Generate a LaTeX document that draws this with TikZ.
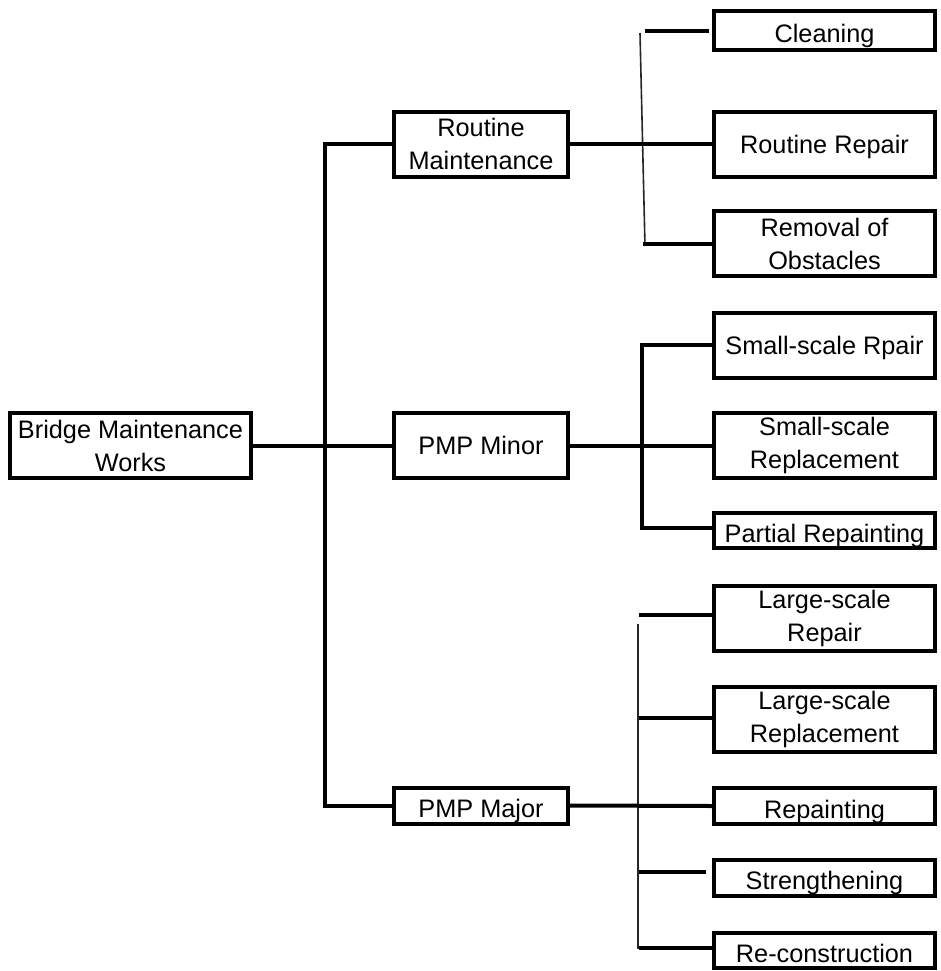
\documentclass[tikz,border=0pt]{standalone}
\usepackage{fontspec}
\setmainfont{Liberation Sans}
\begin{document}
\begin{tikzpicture}[x=0.5pt,y=-0.5pt,
  box/.style={draw, line width=2pt, inner sep=0pt, align=center,
    font=\fontsize{12.65pt}{16.5pt}\selectfont},
  leftbox/.style={box, minimum width=120.5pt},
  midbox/.style={box, minimum width=87pt},
  rightbox/.style={box, minimum width=110.5pt},
  tall/.style={minimum height=32.5pt},
  short/.style={minimum height=18pt},
  oneline/.style={text height=9pt, text depth=0pt},
  lowline/.style={text height=12pt, text depth=0pt},
  conn/.style={line width=2pt},
  thinconn/.style={line width=0.8pt, black!85}]
\useasboundingbox (0,0) rectangle (941,971);

% root and second level
\node[leftbox, tall] (bmw) at (130.5,445.5) {Bridge Maintenance\\Works};
\node[midbox, tall] (rm) at (481,144) {Routine\\Maintenance};
\node[midbox, tall, oneline] (minor) at (481,445.5) {PMP Minor};
\node[midbox, short, lowline] (major) at (481,805.5) {PMP Major};

% routine maintenance items
\node[rightbox, minimum height=19.5pt, lowline] (cleaning) at (824.5,30.5) {Cleaning};
\node[rightbox, tall, oneline] (rrepair) at (824.5,144) {Routine Repair};
\node[rightbox, tall] (removal) at (824.5,243.5) {Removal of\\Obstacles};

% minor items
\node[rightbox, tall, oneline] (ssrpair) at (824.5,345) {Small-scale Rpair};
\node[rightbox, tall] (ssrepl) at (824.5,445.5) {Small-scale\\Replacement};
\node[rightbox, minimum height=17.5pt, lowline] (partial) at (824.5,530.5) {Partial Repainting};

% major items
\node[rightbox, tall] (lsrepair) at (824.5,618) {Large-scale\\Repair};
\node[rightbox, tall] (lsrepl) at (824.5,719) {Large-scale\\Replacement};
\node[rightbox, short, lowline] (repaint) at (824.5,806) {Repainting};
\node[rightbox, short, lowline] (strength) at (824.5,877.5) {Strengthening};
\node[rightbox, minimum height=17.5pt, lowline] (recon) at (824.5,950.5) {Re-construction};

% trunk and bracket columns
\coordinate (trunk) at (325,0);
\coordinate (mbx) at (642,0);
\coordinate (rbTop) at (640,33);
\coordinate (rbBot) at (645,246);
\coordinate (jbTop) at (638,624);
\coordinate (jbBot) at (638,949);
\coordinate (jbx) at (639,0);

% main trunk
\draw[conn] (bmw.east) -- (minor.west);
\draw[conn] (rm.west) -- (rm.west -| trunk) -- (major.west -| trunk) -- (major.west);

% routine maintenance bracket
\draw[thinconn] (rbTop) -- (rbBot);
\draw[conn] (rm.east) -- (rrepair.west);
\draw[conn] ([xshift=-1.5pt]cleaning.west) -- ([xshift=-33.5pt]cleaning.west);
\draw[conn] (removal.west) -- ([xshift=-34.5pt]removal.west);

% minor bracket
\draw[conn] (minor.east) -- (ssrepl.west);
\draw[conn] (ssrpair.west) -- (ssrpair.west -| mbx) -- ([yshift=1.25pt]partial.west -| mbx) -- ([yshift=1.25pt]partial.west);

% major bracket
\draw[thinconn] (jbTop) -- (jbBot);
\draw[conn] (major.east) -- (repaint.west);
\draw[conn] ([yshift=1.5pt]lsrepair.west) -- ([yshift=1.5pt]lsrepair.west -| jbx);
\draw[conn] ([yshift=0.5pt]lsrepl.west) -- ([yshift=0.5pt]lsrepl.west -| jbx);
\draw[conn] ([xshift=-3pt,yshift=2.75pt]strength.west) -- ([yshift=2.75pt]strength.west -| jbx);
\draw[conn] ([yshift=1.25pt]recon.west) -- ([yshift=1.25pt]recon.west -| jbx);
\end{tikzpicture}
\end{document}
